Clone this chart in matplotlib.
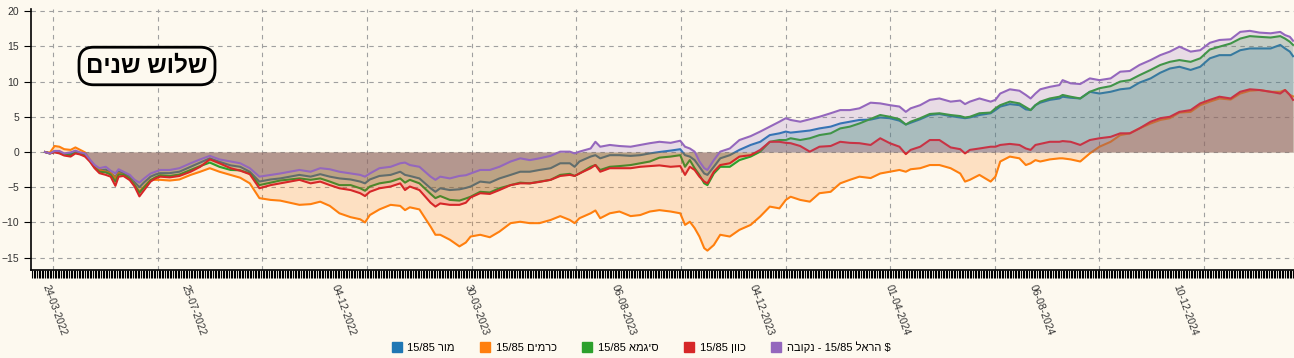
import re
import numpy as np
import matplotlib
matplotlib.use("Agg")
import matplotlib.pyplot as plt
from matplotlib.patches import Patch
from matplotlib.ticker import MultipleLocator

plt.rcParams['font.family'] = ['Liberation Sans', 'DejaVu Sans']

# trading-day index of each sampled point
day = [0, 3, 6, 9, 12, 16, 19, 22, 25, 28, 31, 34, 38, 41, 44, 46, 49, 53, 56, 59,
       62, 66, 69, 72, 78, 84, 91, 97, 103, 109, 116, 122, 128, 134, 141, 147, 153, 159, 166, 172,
       178, 184, 191, 197, 200, 203, 209, 216, 222, 225, 228, 234, 241, 244, 247, 253, 259, 263, 266, 272,
       278, 284, 291, 297, 303, 309, 316, 322, 328, 331, 334, 341, 344, 347, 353, 359, 366, 372, 378, 384,
       391, 397, 400, 403, 406, 409, 412, 414, 418, 422, 428, 434, 441, 447, 453, 459, 463, 466, 472, 478,
       484, 491, 497, 503, 509, 516, 522, 528, 534, 538, 541, 547, 553, 559, 566, 572, 575, 578, 584, 591,
       594, 597, 603, 609, 613, 616, 619, 622, 628, 634, 636, 641, 647, 653, 659, 666, 672, 678, 684, 691,
       697, 703, 709, 716, 722, 728, 734, 741, 747, 753, 759, 766, 772, 775, 778, 780]

mor = [0, -0.2, 0.1, 0.0, -0.3, -0.3, 0.0, -0.2, -0.4, -1.15, -2.0, -2.6, -2.5, -3.0, -3.6, -2.8, -3.0, -3.5, -4.3, -5.0,
       -4.3, -3.5, -3.2, -3.0, -3.0, -2.8, -2.1, -1.5, -0.9, -1.4, -1.9, -2.1, -2.8, -4.2, -3.9, -3.75, -3.5, -3.25, -3.5, -3.15,
       -3.5, -3.75, -3.9, -4.2, -4.45, -3.9, -3.4, -3.25, -2.8, -3.25, -3.4, -3.75, -5.15, -5.65, -5.15, -5.4, -5.3, -5.1, -4.9, -4.2,
       -4.35, -3.75, -3.25, -2.8, -2.8, -2.55, -2.3, -1.6, -1.6, -2.1, -1.35, -0.65, -0.45, -0.9, -0.45, -0.45, -0.55, -0.45, -0.2, 0.0,
       0.2, 0.4, -0.45, -0.65, -1.15, -2.1, -3.05, -3.25, -2.1, -0.9, -0.45, 0.3, 1.0, 1.45, 2.4, 2.65, 2.9, 2.75, 2.9, 3.05,
       3.35, 3.6, 4.05, 4.3, 4.55, 4.6, 4.9, 4.8, 4.45, 3.9, 4.15, 4.65, 5.25, 5.4, 5.1, 4.9, 4.8, 4.9, 5.25, 5.5,
       5.95, 6.45, 6.8, 6.65, 6.05, 5.95, 6.65, 7.0, 7.4, 7.6, 7.85, 7.7, 7.6, 8.55, 8.3, 8.55, 8.9, 9.05, 9.85, 10.45,
       11.25, 11.85, 12.1, 11.65, 12.1, 13.3, 13.75, 13.75, 14.45, 14.7, 14.7, 14.7, 15.2, 14.7, 14.25, 13.6]

karmim = [0, -0.1, 0.85, 0.75, 0.4, 0.3, 0.65, 0.3, -0.05, -1.1, -2.1, -2.55, -2.8, -3.0, -3.75, -3.0, -3.25, -3.75, -4.7, -5.6,
          -4.9, -3.95, -3.95, -3.95, -4.05, -3.9, -3.25, -2.8, -2.3, -2.8, -3.25, -3.65, -4.45, -6.55, -6.8, -6.9, -7.2, -7.5, -7.4, -7.05,
          -7.65, -8.7, -9.25, -9.55, -10.0, -8.95, -8.15, -7.5, -7.65, -8.25, -7.85, -8.15, -10.6, -11.75, -11.75, -12.45, -13.4, -12.85, -12.0, -11.75,
          -12.1, -11.3, -10.1, -9.9, -10.1, -10.1, -9.65, -9.1, -9.65, -10.1, -9.4, -8.7, -8.3, -9.4, -8.7, -8.45, -9.1, -8.95, -8.45, -8.25,
          -8.45, -8.7, -10.35, -9.9, -10.8, -12.0, -13.65, -14.0, -13.2, -11.75, -12.0, -11.05, -10.35, -9.15, -7.75, -8.0, -6.8, -6.35, -6.8, -7.05,
          -5.85, -5.65, -4.45, -3.95, -3.5, -3.7, -3.05, -2.8, -2.55, -2.8, -2.45, -2.3, -1.85, -1.85, -2.3, -3.05, -4.2, -3.95, -3.25, -4.2,
          -3.5, -1.35, -0.65, -0.9, -1.85, -1.6, -1.15, -1.35, -1.05, -0.9, -0.9, -1.05, -1.35, -0.2, 0.75, 1.45, 2.4, 2.65, 3.35, 4.05,
          4.55, 4.8, 5.6, 5.7, 6.65, 7.15, 7.6, 7.45, 8.3, 8.7, 8.8, 8.55, 8.55, 8.8, 8.1, 7.9]

sigma = [0, -0.2, 0.0, -0.1, -0.4, -0.5, -0.1, -0.3, -0.5, -1.25, -2.2, -2.8, -2.9, -3.2, -4.2, -3.2, -3.2, -3.8, -4.7, -5.8,
         -5.0, -4.0, -3.6, -3.3, -3.4, -3.2, -2.55, -2.0, -1.5, -2.1, -2.55, -2.6, -3.05, -4.7, -4.35, -4.05, -3.9, -3.75, -3.95, -3.75,
         -4.2, -4.7, -4.7, -5.15, -5.5, -4.9, -4.45, -4.2, -3.75, -4.35, -3.95, -4.45, -5.95, -6.55, -6.25, -6.8, -6.9, -6.6, -6.35, -5.65,
         -5.75, -5.15, -4.7, -4.35, -4.45, -4.2, -3.95, -3.25, -3.1, -3.4, -3.05, -2.1, -1.85, -2.55, -2.1, -2.0, -1.85, -1.6, -1.35, -0.8,
         -0.65, -0.45, -2.1, -1.15, -2.3, -3.25, -4.45, -4.7, -3.05, -2.1, -2.1, -1.15, -0.65, 0.05, 1.45, 1.7, 1.7, 1.95, 1.7, 1.95,
         2.4, 2.65, 3.35, 3.6, 4.05, 4.7, 5.25, 5.0, 4.65, 3.9, 4.3, 4.8, 5.4, 5.5, 5.25, 5.1, 4.9, 5.0, 5.5, 5.6,
         6.2, 6.65, 7.15, 6.9, 6.35, 5.95, 6.65, 7.15, 7.6, 7.85, 8.1, 7.85, 7.6, 8.55, 9.05, 9.35, 10.0, 10.2, 10.9, 11.65,
         12.35, 12.8, 13.05, 12.8, 13.3, 14.55, 14.95, 15.4, 16.1, 16.45, 16.35, 16.25, 16.45, 16.1, 15.65, 15.2]

kavvan = [0, -0.2, -0.05, -0.2, -0.5, -0.65, -0.2, -0.35, -0.65, -1.35, -2.3, -3.0, -3.25, -3.5, -4.8, -3.5, -3.4, -4.0, -4.9, -6.3,
          -5.4, -4.2, -3.75, -3.5, -3.6, -3.4, -2.8, -2.1, -1.05, -1.6, -2.3, -2.65, -3.15, -5.15, -4.7, -4.45, -4.2, -3.95, -4.45, -4.2,
          -4.7, -5.15, -5.4, -5.85, -6.25, -5.65, -5.15, -4.9, -4.45, -5.4, -4.9, -5.4, -7.2, -7.75, -7.3, -7.5, -7.5, -7.2, -6.45, -5.85,
          -5.95, -5.4, -4.7, -4.45, -4.45, -4.25, -3.95, -3.4, -3.25, -3.4, -3.05, -2.3, -1.85, -2.8, -2.3, -2.3, -2.3, -2.1, -2.0, -1.9,
          -2.1, -2.0, -3.25, -2.1, -2.55, -3.5, -4.2, -4.45, -2.8, -1.85, -1.6, -0.65, -0.45, 0.3, 1.45, 1.45, 1.3, 1.25, 0.85, 0.05,
          0.75, 0.85, 1.45, 1.3, 1.25, 1.0, 1.95, 1.25, 0.75, -0.3, 0.3, 0.75, 1.7, 1.7, 0.65, 0.4, -0.2, 0.3, 0.5, 0.75,
          0.75, 1.0, 1.15, 1.0, 0.5, 0.3, 1.0, 1.15, 1.45, 1.45, 1.55, 1.45, 1.0, 1.7, 1.95, 2.15, 2.65, 2.65, 3.35, 4.3,
          4.8, 5.0, 5.7, 5.95, 6.9, 7.4, 7.85, 7.6, 8.55, 8.9, 8.8, 8.55, 8.3, 8.8, 8.1, 7.4]

harel = [0, -0.2, 0.15, 0.15, -0.2, -0.05, 0.2, -0.05, -0.2, -1.05, -1.85, -2.3, -2.1, -2.65, -3.05, -2.45, -2.8, -3.25, -3.95, -4.35,
         -3.75, -3.05, -2.8, -2.55, -2.55, -2.3, -1.6, -1.05, -0.55, -1.05, -1.35, -1.6, -2.3, -3.5, -3.25, -3.05, -2.8, -2.55, -2.8, -2.3,
         -2.45, -2.8, -3.05, -3.25, -3.5, -3.05, -2.3, -2.1, -1.6, -1.5, -1.85, -2.1, -3.5, -3.95, -3.5, -3.75, -3.4, -3.3, -3.05, -2.55,
         -2.55, -2.1, -1.35, -0.9, -1.15, -0.9, -0.55, 0.05, 0.05, -0.2, 0.05, 0.5, 1.45, 0.75, 1.0, 0.85, 0.75, 1.0, 1.25, 1.45,
         1.3, 1.6, 0.75, 0.5, 0.05, -1.35, -2.3, -2.55, -1.15, 0.05, 0.5, 1.7, 2.25, 2.9, 3.6, 4.3, 4.8, 4.55, 4.3, 4.65,
         5.0, 5.5, 5.95, 5.95, 6.2, 7.0, 6.9, 6.65, 6.45, 5.7, 6.2, 6.65, 7.4, 7.6, 7.15, 7.3, 6.8, 7.15, 7.6, 7.15,
         7.4, 8.3, 8.9, 8.7, 8.1, 7.6, 8.3, 8.9, 9.25, 9.5, 10.2, 9.75, 9.65, 10.45, 10.2, 10.45, 11.4, 11.5, 12.35, 13.05,
         13.75, 14.25, 14.95, 14.25, 14.45, 15.5, 15.9, 16.0, 17.05, 17.2, 16.95, 16.85, 17.05, 16.6, 16.35, 15.8]

names = ['מור 15/85', 'כרמים 15/85', 'סיגמא 15/85', 'כוון 15/85', 'הראל 15/85 - נקובה $']
colors = ['#1f77b4', '#ff7f0e', '#2ca02c', '#d62728', '#9467bd']
series = [mor, karmim, sigma, kavvan, harel]

tick_days = [0, 87, 181, 264, 356, 442, 527, 617, 707]
tick_labels = ['24-03-2022', '25-07-2022', '04-12-2022', '30-03-2023', '06-08-2023',
               '04-12-2023', '01-04-2024', '06-08-2024', '10-12-2024']
title = 'שלוש שנים'


def heb(s):
    # visual order for right-to-left text, numbers kept left-to-right
    tail = ''
    if s.endswith(' $'):
        s, tail = s[:-2], ' $'
    r = s[::-1]
    return re.sub(r'[0-9/.]+', lambda m: m.group(0)[::-1], r) + tail


bg = '#fdf9ef'
fig = plt.figure(figsize=(12.94, 3.58), dpi=100, facecolor=bg)
ax = fig.add_axes([31/1294, 88/358, 1263/1294, 261/358], facecolor=bg)

# each series: area then line, stacked so later areas tint earlier lines
for i, (vals, c) in enumerate(zip(series, colors)):
    ax.fill_between(day, 0, vals, color=c, alpha=0.2, lw=0, zorder=3 + 2*i)
    ax.plot(day, vals, color=c, lw=1.5, zorder=4 + 2*i)

ax.set_xlim(-8.75, 780.6)
ax.set_ylim(-16.75, 20.3)

# grid
ax.set_yticks([-15, -10, -5, 0, 5, 10, 15, 20])
ax.yaxis.grid(True, linestyle=(0, (4, 4)), color='#a0a0a0', lw=0.8, zorder=0)
for gx in np.arange(12) * 65.4 + 5:
    ax.axvline(gx, linestyle=(0, (4, 4)), color='#a0a0a0', lw=0.8, zorder=0)
ax.set_axisbelow(True)

ax.set_xticks(tick_days)
ax.set_xticklabels(tick_labels, rotation=-70, ha='left', va='center',
                   rotation_mode='anchor', fontsize=7.5, color='#333333')
ax.xaxis.set_minor_locator(MultipleLocator(1))
ax.tick_params(axis='x', which='both', length=6, width=0.8, color='black', pad=5)
ax.tick_params(axis='y', length=5, width=0.8, labelsize=7.5, labelcolor='#333333')

for s in ['top', 'right']:
    ax.spines[s].set_visible(False)
ax.spines['left'].set_linewidth(1.2)
ax.spines['bottom'].set_linewidth(1.2)

fig.text(147/1294, 1 - 66/358, heb(title), ha='center', va='center', fontsize=17.5,
         fontweight='bold',
         bbox=dict(boxstyle='round,pad=0.3,rounding_size=0.6', fc=bg, ec='black', lw=2))

handles = [Patch(color=c) for c in colors]
fig.legend(handles, [heb(n) for n in names], loc='center', ncol=5,
           bbox_to_anchor=(641/1294, 11/358), frameon=False, fontsize=8,
           handlelength=0.9, handleheight=0.9, handletextpad=0.5, columnspacing=2.3)

plt.savefig('out.png', dpi=100, facecolor=bg)
